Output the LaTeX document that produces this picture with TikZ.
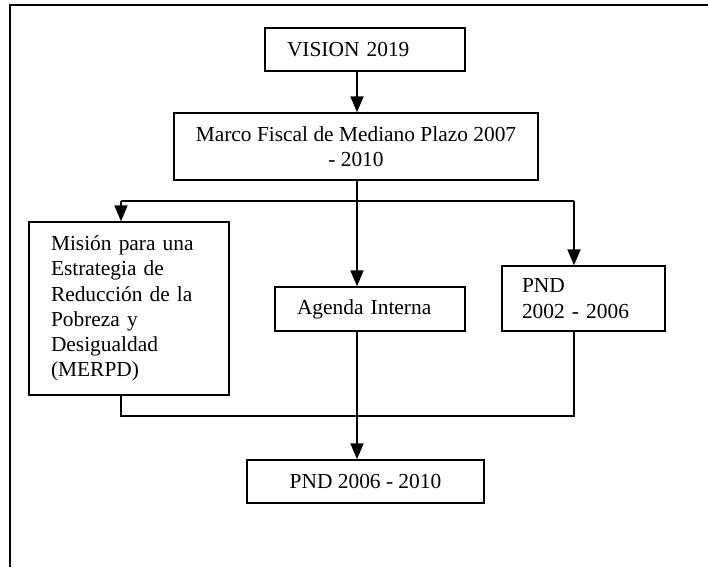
\documentclass[tikz,border=0pt]{standalone}
\usepackage{fontspec}
\setmainfont{Liberation Serif}
\usetikzlibrary{arrows.meta}
\tikzstyle{box} = [rectangle, draw=black, line width=1.4pt, inner xsep=22pt, inner ysep=0pt, font=\fontsize{21.4pt}{25.2pt}\selectfont]
\tikzstyle{leftbox} = [box, align=left]
\tikzstyle{midbox} = [box, align=center]
\tikzstyle{link} = [line width=1.8pt]
\tikzstyle{arrow} = [link, -{Triangle[length=16pt,width=13pt]}]

\begin{document}
\begin{tikzpicture}[x=1pt, y=1pt]
            \useasboundingbox (0,0) rectangle (708,-567);
            \draw [line width=1.8pt] (10,-567) -- (10,-5) -- (708,-5);

            \node (vision) [leftbox, text width=156pt, minimum height=43pt] at (365,-49.5) {VISION 2019};
            \node (marco) [midbox, minimum width=362pt, minimum height=67pt] at (356,-146.5) {Marco Fiscal de Mediano Plazo 2007\\- 2010};
            \node (merpd) [leftbox, text width=156pt, minimum height=173pt] at (129,-308.5) {Misión para una\\Estrategia de\\Reducción de la\\Pobreza y\\Desigualdad\\(MERPD)};
            \node (agenda) [leftbox, text width=146pt, minimum height=44pt] at (370,-309) {Agenda Interna};
            \node (pnd) [leftbox, inner xsep=20pt, text width=123pt, minimum height=65pt] at (583.5,-298.5) {PND\\2002 - 2006};
            \node (pndnew) [midbox, minimum width=237pt, minimum height=43pt] at (365.5,-481.5) {PND 2006 - 2010};

            \coordinate (split) at (357,-201);
            \coordinate (splitleft) at (121,-201);
            \coordinate (splitright) at (574,-201);
            \coordinate (joinleft) at (121,-416);
            \coordinate (joinright) at (574,-416);

            \draw [arrow] (vision.south -| split) -- (marco.north -| split);
            \draw [link] (marco.south -| split) -- (split);
            \draw [link] (splitleft) -- (splitright);
            \draw [arrow] (splitleft) -- (splitleft |- merpd.north);
            \draw [arrow] (split) -- (split |- agenda.north);
            \draw [arrow] (splitright) -- (splitright |- pnd.north);
            \draw [link] (joinleft |- merpd.south) -- (joinleft) -- (joinright) -- (joinright |- pnd.south);
            \draw [arrow] (agenda.south -| split) -- (pndnew.north -| split);
        \end{tikzpicture}
\end{document}
